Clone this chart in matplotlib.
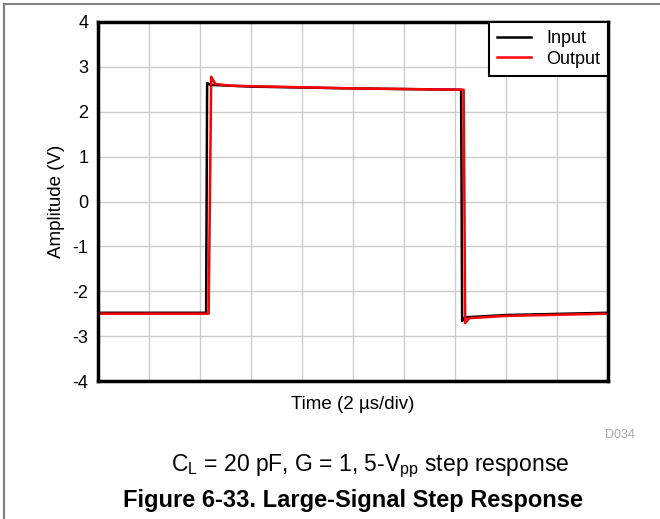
import matplotlib
matplotlib.use('Agg')
import matplotlib.pyplot as plt
from matplotlib.lines import Line2D

plt.rcParams['font.family'] = ['Liberation Sans', 'DejaVu Sans']

# time in divisions (2 us/div), amplitude in volts
input_t = [0, 2.12, 2.14, 2.2, 3, 5, 7.12, 7.14, 7.2, 8, 10]
input_v = [-2.48, -2.48, 2.64, 2.6, 2.56, 2.52, 2.49, -2.66, -2.58, -2.53, -2.48]
output_t = [0, 2.17, 2.22, 2.3, 2.6, 5, 7.17, 7.2, 7.28, 8, 10]
output_v = [-2.50, -2.50, 2.78, 2.62, 2.58, 2.52, 2.49, -2.71, -2.6, -2.55, -2.5]
y_ticks = [-4, -3, -2, -1, 0, 1, 2, 3, 4]

fig = plt.figure(figsize=(6.6, 5.19), dpi=100)
ax = fig.add_axes([98 / 660, 1 - 381 / 519, 510 / 660, 359 / 519])

ax.plot(input_t, input_v, color='black', lw=1.8, label='Input')
ax.plot(output_t, output_v, color='#ff0000', lw=1.8, label='Output')

ax.set_xlim(0, 10)
ax.set_ylim(-4, 4)
ax.set_xticks(range(11))
ax.set_xticklabels([])
ax.set_yticks(y_ticks)
ax.set_yticklabels([str(v) for v in y_ticks])
ax.tick_params(length=0, labelsize=13, pad=7)
ax.grid(True, color='#cccccc', lw=1)
ax.set_axisbelow(True)
for s in ax.spines.values():
    s.set_linewidth(2.5)

ax.set_xlabel('Time (2 µs/div)', fontsize=13.5, labelpad=4)
ax.set_ylabel('Amplitude (V)', fontsize=13.5, labelpad=5)

leg = ax.legend(loc='upper right', fontsize=13, fancybox=False, framealpha=1,
                borderaxespad=0, handlelength=1.9, labelspacing=0.2,
                borderpad=0.45)
leg.get_frame().set_edgecolor('black')
leg.get_frame().set_linewidth(1.5)

fig.text(620 / 660, 1 - 435 / 519, 'D034', color='#aaaaaa', fontsize=9,
         ha='center', va='center')
fig.text(370 / 660, 1 - 466 / 519, r'C$_\mathregular{L}$ = 20 pF, G = 1, 5-V$_\mathregular{pp}$ step response',
         fontsize=16.5, ha='center', va='center')
fig.text(353 / 660, 1 - 500 / 519, 'Figure 6-33. Large-Signal Step Response',
         fontsize=17, fontweight='bold', ha='center', va='center')

# page border lines
fig.add_artist(Line2D([4 / 660, 4 / 660], [0, 1 - 4 / 519], color='#808080', lw=1.5))
fig.add_artist(Line2D([4 / 660, 1], [1 - 4 / 519, 1 - 4 / 519], color='#808080', lw=1.5))

fig.savefig('out.png', dpi=100)
